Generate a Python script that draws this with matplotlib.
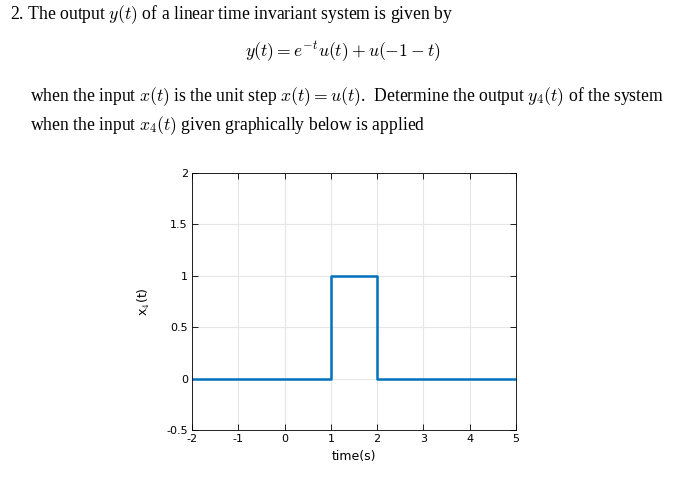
import matplotlib
matplotlib.use("Agg")
import matplotlib.pyplot as plt

plt.rcParams["mathtext.fontset"] = "cm"
plt.rcParams["font.family"] = "Liberation Serif"

t = [-2, 1, 1, 2, 2, 5]
x4 = [0, 0, 1, 1, 0, 0]
xticks = [-2, -1, 0, 1, 2, 3, 4, 5]
yticks = [-0.5, 0, 0.5, 1, 1.5, 2]

fig = plt.figure(figsize=(6.86, 4.8), dpi=100)
fs = 12.7
fig.text(10 / 686, 1 - 15 / 480, r"2. The output $y(t)$ of a linear time invariant system is given by",
         fontsize=fs, va="center")
fig.text(343 / 686, 1 - 52 / 480, r"$y(t) = e^{-t}u(t) + u(-1-t)$", fontsize=fs,
         ha="center", va="center")
fig.text(30 / 686, 1 - 97 / 480,
         r"when the input $x(t)$ is the unit step $x(t) = u(t)$.  Determine the output $y_4(t)$ of the system",
         fontsize=fs, va="center")
fig.text(30 / 686, 1 - 126 / 480,
         r"when the input $x_4(t)$ given graphically below is applied",
         fontsize=fs, va="center")

ax = fig.add_axes([192 / 686, 1 - 430 / 480, 324 / 686, 257 / 480])
ax.plot(t, x4, color="#0072BD", lw=1.8)
ax.set_xlim(-2, 5)
ax.set_ylim(-0.5, 2)
ax.set_xticks(xticks)
ax.set_yticks(yticks)
ax.set_xticklabels([str(v) for v in xticks], fontfamily="DejaVu Sans", fontsize=8)
ax.set_yticklabels(["-0.5", "0", "0.5", "1", "1.5", "2"], fontfamily="DejaVu Sans", fontsize=8)
ax.grid(True, color="#e6e6e6", lw=0.8)
ax.set_axisbelow(True)
ax.tick_params(direction="in", top=True, right=True, length=4, width=0.6, pad=3)
for s in ax.spines.values():
    s.set_linewidth(0.6)
ax.set_xlabel("time(s)", fontfamily="DejaVu Sans", fontsize=9)
ax.set_ylabel(r"x$_4$(t)", fontfamily="DejaVu Sans", fontsize=9, labelpad=10)

fig.savefig("out.png", dpi=100)
